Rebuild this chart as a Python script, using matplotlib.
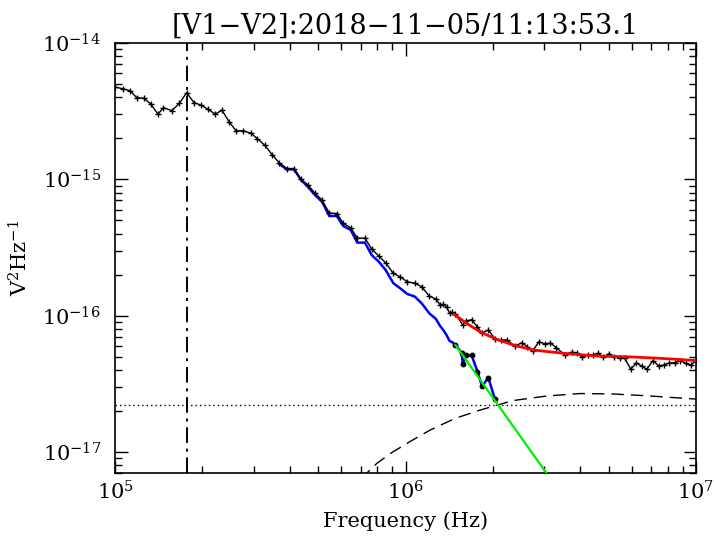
import numpy as np
import matplotlib
matplotlib.use("Agg")
import matplotlib.pyplot as plt
from matplotlib.ticker import FixedLocator, NullFormatter

plt.rcParams['font.family'] = ['DejaVu Serif']
plt.rcParams['mathtext.fontset'] = 'dejavuserif'

# ---------------- data ----------------
title = "[V1\u2212V2]:2018\u221211\u221205/11:13:53.1"
xlabel = "Frequency (Hz)"
ylabel = r"V$^2$Hz$^{-1}$"

# measured spectrum (black), PSD in units of 1e-16 V^2/Hz
freq_black = [1.000e5, 1.063e5, 1.126e5, 1.188e5, 1.258e5, 1.327e5, 1.406e5, 1.467e5,
              1.571e5, 1.665e5, 1.765e5, 1.870e5, 1.972e5, 2.090e5, 2.214e5, 2.335e5,
              2.475e5, 2.610e5, 2.765e5, 2.932e5, 3.090e5, 3.277e5, 3.470e5, 3.678e5,
              3.900e5, 4.133e5, 4.358e5, 4.617e5, 4.881e5, 5.160e5, 5.467e5, 5.798e5,
              6.108e5, 6.477e5, 6.825e5, 7.253e5, 7.648e5, 8.084e5, 8.545e5, 9.078e5,
              9.574e5, 1.0144e6, 1.0757e6, 1.137e6, 1.2075e6, 1.2735e6, 1.315e6, 1.349e6,
              1.384e6, 1.418e6, 1.446e6, 1.486e6, 1.574e6, 1.616e6, 1.690e6, 1.769e6,
              1.834e6, 1.928e6, 2.033e6, 2.132e6, 2.236e6, 2.382e6, 2.518e6, 2.627e6,
              2.737e6, 2.881e6, 3.021e6, 3.156e6, 3.297e6, 3.527e6, 3.728e6, 3.885e6,
              4.052e6, 4.232e6, 4.431e6, 4.606e6, 4.785e6, 5.018e6, 5.221e6, 5.454e6,
              5.675e6, 5.960e6, 6.231e6, 6.493e6, 6.767e6, 7.112e6, 7.446e6, 7.742e6,
              8.093e6, 8.453e6, 8.830e6, 9.202e6, 9.612e6, 9.961e6]
psd_black = [47.5, 46.2, 44.7, 39.7, 39.3, 35.7, 30.0, 33.5,
             31.9, 36.1, 43.2, 36.5, 35.1, 32.6, 30.1, 32.1,
             26.3, 22.7, 22.7, 21.8, 19.9, 17.8, 15.2, 13.2,
             12.0, 12.0, 10.05, 9.08, 7.89, 7.05, 5.66, 5.61,
             4.75, 4.41, 3.70, 3.70, 3.08, 2.74, 2.44, 2.04,
             1.93, 1.77, 1.73, 1.63, 1.39, 1.32, 1.20, 1.21,
             1.16, 1.045, 1.054, 1.027, 0.853, 0.913, 0.933, 0.825,
             0.746, 0.784, 0.676, 0.662, 0.662, 0.598, 0.633, 0.591,
             0.550, 0.643, 0.619, 0.630, 0.583, 0.518, 0.538, 0.534,
             0.493, 0.514, 0.514, 0.529, 0.495, 0.525, 0.499, 0.486,
             0.490, 0.404, 0.449, 0.427, 0.404, 0.467, 0.427, 0.434,
             0.449, 0.451, 0.467, 0.447, 0.434, 0.465]

# noise-subtracted spectrum (blue), units 1e-16
freq_blue = [3.678e5, 3.900e5, 4.133e5, 4.358e5, 4.617e5, 4.881e5, 5.160e5, 5.467e5,
             5.798e5, 6.108e5, 6.477e5, 6.825e5, 7.253e5, 7.648e5, 8.084e5, 8.545e5,
             9.078e5, 9.574e5, 1.0144e6, 1.0757e6, 1.137e6, 1.2075e6, 1.2735e6, 1.315e6,
             1.349e6, 1.384e6, 1.418e6, 1.446e6, 1.486e6, 1.560e6, 1.574e6, 1.616e6,
             1.690e6, 1.769e6, 1.834e6, 1.928e6, 2.033e6]
psd_blue = [12.95, 11.84, 11.84, 9.97, 8.78, 7.67, 6.85, 5.38,
            5.38, 4.54, 4.25, 3.43, 3.43, 2.78, 2.49, 2.16,
            1.73, 1.59, 1.44, 1.38, 1.23, 1.04, 0.944, 0.839,
            0.784, 0.721, 0.651, 0.640, 0.608, 0.535, 0.438, 0.510,
            0.510, 0.388, 0.303, 0.350, 0.243]
n_blue_dots = 9   # last points of the blue curve carry black dots

# total noise model fit (red), units 1e-16
freq_red = [1.469e6, 1.624e6, 1.708e6, 1.805e6, 1.923e6, 2.061e6, 2.350e6, 2.754e6,
            3.494e6, 4.552e6, 5.773e6, 7.517e6, 1.0e7]
psd_red = [1.022, 0.878, 0.818, 0.762, 0.715, 0.670, 0.608, 0.559,
           0.529, 0.505, 0.499, 0.486, 0.468]

# power-law fit (green), units 1e-16
freq_green = [1.486e6, 3.3e6]
psd_green = [0.608, 0.0555]

# quasi-thermal noise component (dashed), units 1e-16
freq_dash = [6.97e5, 7.345e5, 7.977e5, 8.960e5, 1.0347e6, 1.217e6, 1.485e6, 1.810e6,
             2.082e6, 2.344e6, 3.062e6, 3.988e6, 5.18e6, 6.783e6, 1.0e7]
psd_dash = [0.0643, 0.0697, 0.0825, 0.0987, 0.1188, 0.1448, 0.1764, 0.203,
            0.221, 0.238, 0.257, 0.268, 0.266, 0.258, 0.244]

noise_floor = 0.221      # dotted horizontal, units 1e-16
f_marker = 1.769e5       # dash-dot vertical line (Hz)

xlim = (1e5, 1e7)
ylim = (7.0e-18, 1e-14)
x_major = [1e5, 1e6, 1e7]
y_major = [1e-17, 1e-16, 1e-15, 1e-14]
unit = 1e-16

# ---------------- plot ----------------
fig = plt.figure(figsize=(7.14, 5.45), dpi=100)
ax = fig.add_axes([115/714, 72/545, 581/714, 430/545])
ax.set_xscale('log')
ax.set_yscale('log')

fb = np.array(freq_blue); pb = np.array(psd_blue) * unit
ax.plot(fb, pb, color='#0000ff', lw=1.8, zorder=2)
ax.plot(freq_black, np.array(psd_black) * unit, color='black', lw=1.0,
        marker='+', ms=4, mew=1.0, zorder=3)
ax.plot(fb[-n_blue_dots:], pb[-n_blue_dots:], ls='none', marker='o', ms=3.2,
        color='black', zorder=4)
ax.plot(freq_red, np.array(psd_red) * unit, color='#ff0000', lw=2.0, zorder=5)
ax.plot(freq_green, np.array(psd_green) * unit, color='#00ee00', lw=1.6, zorder=4)
ax.plot(freq_dash, np.array(psd_dash) * unit, color='black', lw=1.0,
        ls=(0, (9, 5)), zorder=2)
ax.axhline(noise_floor * unit, color='black', lw=1.0, ls=(0, (1, 2.2)), zorder=2)
ax.axvline(f_marker, color='black', lw=1.4, ls=(0, (8, 3, 1.5, 3)), zorder=2)

ax.set_xlim(*xlim)
ax.set_ylim(*ylim)

def minor_ticks(lo, hi):
    out = []
    for e in range(int(np.floor(np.log10(lo))), int(np.ceil(np.log10(hi))) + 1):
        for m in range(2, 10):
            v = m * 10.0 ** e
            if lo <= v <= hi:
                out.append(v)
    return out

ax.xaxis.set_major_locator(FixedLocator(x_major))
ax.yaxis.set_major_locator(FixedLocator(y_major))
ax.xaxis.set_minor_locator(FixedLocator(minor_ticks(*xlim)))
ax.yaxis.set_minor_locator(FixedLocator(minor_ticks(*ylim)))
ax.xaxis.set_minor_formatter(NullFormatter())
ax.yaxis.set_minor_formatter(NullFormatter())

ax.tick_params(which='both', direction='in', top=True, right=True, width=1.0)
ax.tick_params(which='major', length=9, labelsize=15)
ax.tick_params(axis='x', which='major', pad=5)
ax.tick_params(axis='y', which='major', pad=10)
ax.tick_params(which='minor', length=5)
for s in ax.spines.values():
    s.set_linewidth(1.2)

ax.set_title(title, fontsize=19.5, pad=7)
ax.set_xlabel(xlabel, fontsize=15, labelpad=6)
ax.set_ylabel(ylabel, fontsize=15, labelpad=8)

fig.savefig("out.png", dpi=100)
